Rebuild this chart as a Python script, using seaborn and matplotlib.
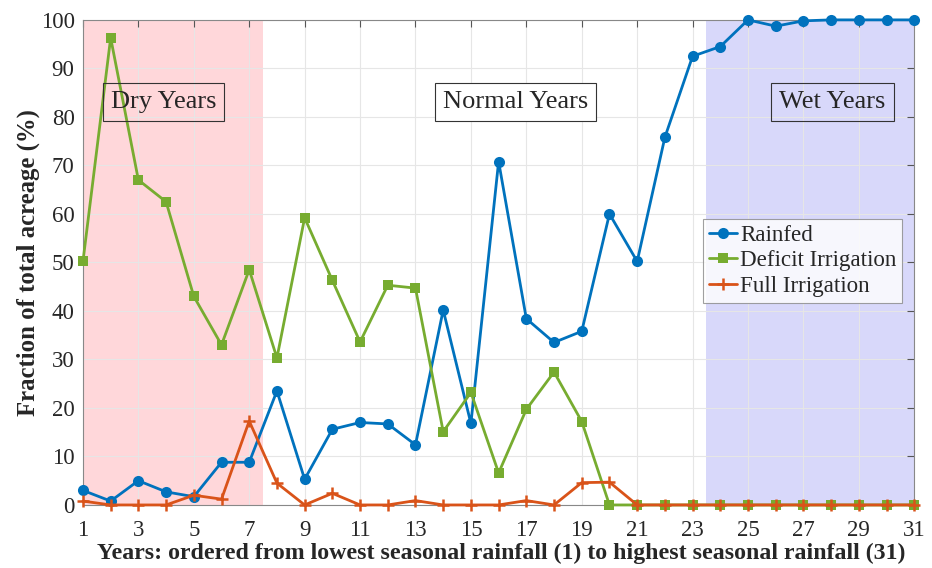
import matplotlib
matplotlib.use("Agg")
import matplotlib.pyplot as plt
import seaborn as sns
import pandas as pd
import numpy as np

years = list(range(1, 32))
rainfed = [3.0, 0.8, 5.0, 2.7, 1.7, 8.8, 8.8, 23.5, 5.3, 15.6, 17.0, 16.7, 12.4, 40.2, 16.8,
           70.8, 38.4, 33.5, 35.8, 60.0, 50.2, 75.8, 92.5, 94.5, 100.0, 98.7, 99.8, 100.0,
           100.0, 100.0, 100.0]
deficit = [50.2, 96.3, 67.0, 62.5, 43.0, 33.0, 48.5, 30.3, 59.2, 46.3, 33.6, 45.3, 44.7, 15.1,
           23.2, 6.6, 19.7, 27.4, 17.2, 0, 0, 0, 0, 0, 0, 0, 0, 0, 0, 0, 0]
full = [0.8, 0, 0, 0, 2.0, 1.2, 17.3, 4.5, 0, 2.4, 0, 0, 0.9, 0, 0, 0, 0.9, 0, 4.6, 4.7,
        0, 0, 0, 0, 0, 0, 0, 0, 0, 0, 0]
series_names = ["Rainfed", "Deficit Irrigation", "Full Irrigation"]
x_ticks = list(range(1, 32, 2))
y_ticks = list(range(0, 101, 10))
regions = [("Dry Years", 3.9), ("Normal Years", 16.6), ("Wet Years", 28.05)]

sns.set_theme(style="white")
plt.rcParams["font.family"] = ["Liberation Serif", "DejaVu Serif"]
plt.rcParams["mathtext.fontset"] = "stix"

fig = plt.figure(figsize=(9.32, 5.68), dpi=100)
ax = fig.add_axes([0.089, 0.111, 0.892, 0.854])

ax.axvspan(1, 7.5, color="#ffd7da", zorder=0, lw=0)
ax.axvspan(23.5, 31, color="#d8d8fa", zorder=0, lw=0)

colors = ["#0072BD", "#77AC30", "#D95319"]
markers = ["o", "s", "+"]
msizes = [8, 6.5, 8]
for vals, name, c, m, ms in zip([rainfed, deficit, full], series_names, colors, markers, msizes):
    df = pd.DataFrame({"year": years, "value": vals})
    sns.lineplot(data=df, x="year", y="value", ax=ax, color=c, marker=m, markersize=ms,
                 markeredgewidth=1.8 if m == "+" else 0, markeredgecolor=c,
                 linewidth=2, label=name, zorder=3, clip_on=False)

ax.set_xlim(1, 31)
ax.set_ylim(0, 100)
ax.set_xticks(x_ticks)
ax.set_yticks(y_ticks)
ax.grid(True, color="#e6e6e6", linewidth=0.8, zorder=1)
ax.set_axisbelow(True)
ax.tick_params(axis="both", direction="in", length=5, width=0.8, color="#555555",
               labelsize=16.5, top=True, right=True)
ax.tick_params(axis="x", pad=10.5)
ax.tick_params(axis="y", pad=6)
for s in ax.spines.values():
    s.set_color("#888888")
    s.set_linewidth(0.8)

ax.set_xlabel("Years: ordered from lowest seasonal rainfall (1) to highest seasonal rainfall (31)",
              fontsize=17.2, fontweight="bold", va="top")
ax.xaxis.set_label_coords(0.503, -0.078)
ax.set_ylabel("Fraction of total acreage (%)", fontsize=17.8, fontweight="bold")
ax.yaxis.set_label_coords(-0.052, 0.5)

for label, xc in regions:
    ax.text(xc, 83.1, label, fontsize=19, ha="center", va="center", zorder=4,
            bbox=dict(boxstyle="square,pad=0.3", facecolor="white" if label == "Normal Years" else "none",
                      edgecolor="#333333", linewidth=0.8))

leg = ax.legend(loc="upper left", bbox_to_anchor=(0.746, 0.59), fontsize=16.6, frameon=True,
                fancybox=False, edgecolor="#888888", handlelength=1.2, handletextpad=0.15,
                borderpad=0.25, labelspacing=0.2, borderaxespad=0)
leg.get_frame().set_linewidth(0.8)
leg.set_zorder(5)

fig.savefig("out.png", dpi=100)
